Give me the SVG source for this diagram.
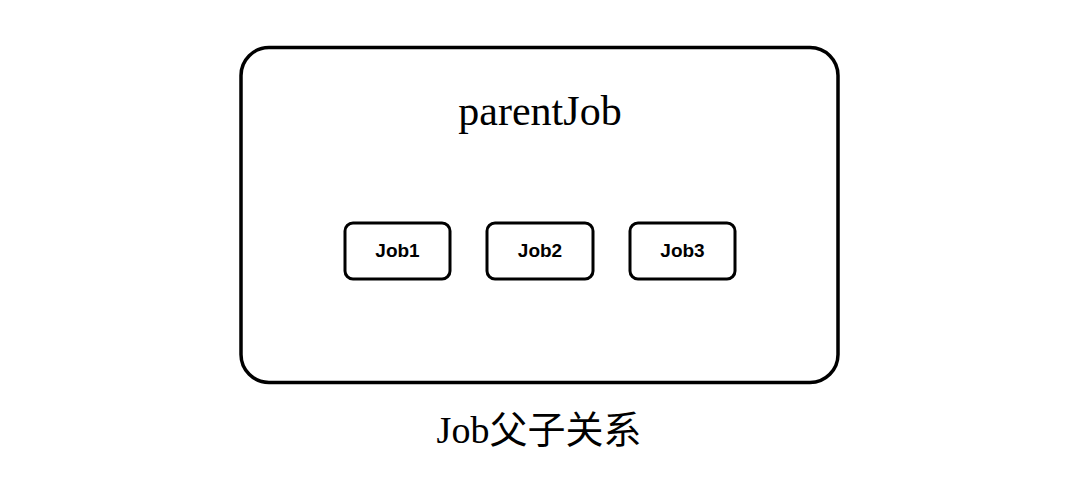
<svg xmlns="http://www.w3.org/2000/svg" width="1080" height="484" viewBox="0 0 1080 484">
<style>
.box{fill:#fff;stroke:#000;stroke-width:3}
.lbl{font-family:"Liberation Sans",Arial,sans-serif;font-weight:bold;font-size:19px;text-anchor:middle;fill:#000}
.serif{font-family:"Liberation Serif","Noto Sans CJK SC",serif;text-anchor:middle;fill:#000}
</style>
<rect width="1080" height="484" fill="#fff"/>
<g id="parentJob">
<rect x="241" y="47.5" width="597" height="335" rx="28" ry="28" fill="#fff" stroke="#000" stroke-width="3.5"/>
<text class="serif" x="540" y="125" font-size="42">parentJob</text>
</g>
<g id="job1">
<rect class="box" x="345" y="223" width="105" height="56" rx="8"/>
<text class="lbl" x="397.5" y="257">Job1</text>
</g>
<g id="job2">
<rect class="box" x="487" y="223" width="106" height="56" rx="8"/>
<text class="lbl" x="540" y="257">Job2</text>
</g>
<g id="job3">
<rect class="box" x="630" y="223" width="105" height="56" rx="8"/>
<text class="lbl" x="682.5" y="257">Job3</text>
</g>
<g id="connectors"></g>
<g id="caption">
<text class="serif" x="539" y="443" font-size="38">Job父子关系</text>
</g>
</svg>
